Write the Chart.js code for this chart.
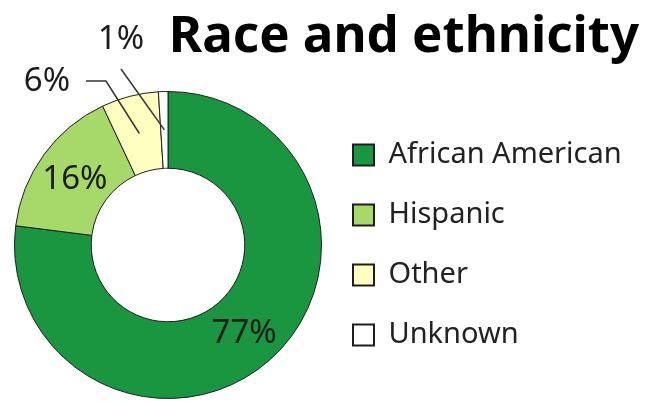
<!DOCTYPE html>
<html lang="en">
<head>
  <meta charset="UTF-8" />
  <title>Race and ethnicity</title>
  <script src="https://cdn.jsdelivr.net/npm/chart.js"></script>
  <style>
    html, body {
      margin: 0;
      padding: 0;
      background: #fff;
    }
    .wrap {
      width: 647px;
      height: 401px;
      position: relative;
    }
  </style>
</head>
<body>
<div class="wrap">
  <canvas id="raceChart"></canvas>
</div>
<script>
  const categories = ['African American', 'Hispanic', 'Other', 'Unknown'];
  const shares = [77, 16, 6, 1];
  const sliceColors = ['#1a9641', '#a6d96a', '#ffffbf', '#ffffff'];
  const titleText = 'Race and ethnicity';

  // small slices get their label outside, with a leader line to the slice
  const callouts = {
    2: { text: [47, 82], line: [[86, 81], [106, 81]] },
    3: { text: [121, 40], line: [[121, 69]] }
  };

  const labelPlugin = {
    id: 'sliceLabels',
    afterDraw(chart) {
      const ctx = chart.ctx;
      const arcs = chart.getDatasetMeta(0).data;
      ctx.save();
      ctx.font = '33px "Noto Sans"';
      ctx.fillStyle = '#1c1c1c';
      ctx.textAlign = 'center';
      ctx.textBaseline = 'middle';
      arcs.forEach((arc, i) => {
        const pos = arc.tooltipPosition();
        const label = shares[i] + '%';
        const c = callouts[i];
        if (!c) {
          ctx.fillText(label, pos.x, pos.y + 2);
          return;
        }
        ctx.strokeStyle = '#333';
        ctx.lineWidth = 1.5;
        ctx.beginPath();
        ctx.moveTo(c.line[0][0], c.line[0][1]);
        c.line.slice(1).forEach(p => ctx.lineTo(p[0], p[1]));
        ctx.lineTo(pos.x, pos.y);
        ctx.stroke();
        ctx.fillText(label, c.text[0], c.text[1]);
      });

      // title
      ctx.font = 'bold 51px "Noto Sans"';
      ctx.fillStyle = '#000';
      ctx.textAlign = 'right';
      ctx.textBaseline = 'alphabetic';
      ctx.fillText(titleText, 639, 52);
      ctx.restore();
    }
  };

  new Chart(document.getElementById('raceChart'), {
    type: 'doughnut',
    data: {
      labels: categories,
      datasets: [{
        data: shares,
        backgroundColor: sliceColors,
        borderColor: '#1e1e1e',
        borderWidth: 1
      }]
    },
    options: {
      responsive: true,
      maintainAspectRatio: false,
      animation: false,
      cutout: '50%',
      layout: {
        padding: { top: 91, left: 14, bottom: 2, right: 17 }
      },
      plugins: {
        legend: {
          position: 'right',
          labels: {
            boxWidth: 21,
            boxHeight: 21,
            padding: 31,
            color: '#222',
            font: { family: 'Noto Sans', size: 29 },
            generateLabels(chart) {
              const items = Chart.overrides.doughnut.plugins.legend.labels.generateLabels(chart);
              items.forEach(it => { it.lineWidth = 2; it.strokeStyle = '#1e1e1e'; });
              return items;
            }
          }
        },
        tooltip: { enabled: false },
        title: { display: false }
      }
    },
    plugins: [labelPlugin]
  });
</script>
</body>
</html>
